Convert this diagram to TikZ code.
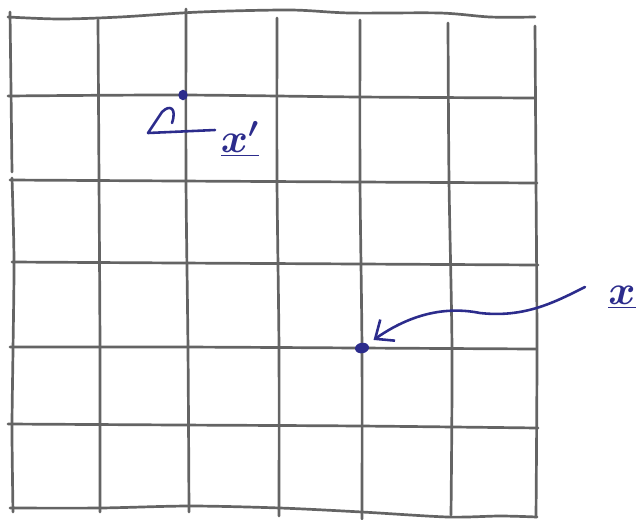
\documentclass[tikz,border=0pt]{standalone}
\usepackage{tikz}
\usetikzlibrary{arrows.meta,shapes.geometric}
\definecolor{pen}{RGB}{44,44,140}
\definecolor{pencil}{RGB}{100,100,100}

\begin{document}
\begin{tikzpicture}[x=0.03cm, y=-0.03cm, line join=round, line cap=round,
	grid/.style={pencil, line width=2.3pt},
	ink/.style={pen, line width=2.2pt},
	dot/.style={ellipse, fill=pen, inner sep=0pt},
	lab/.style={text=pen, inner sep=1pt, font=\huge\boldmath, scale=1.7}]
	\useasboundingbox (0,0) rectangle (644,519);
	% horizontal lines
	\draw[grid] plot[smooth] coordinates {(8,17) (60,19) (120,17) (200,12) (290,10) (350,13) (440,13) (490,17) (535,17)};
	\draw[grid] plot[smooth] coordinates {(8,96) (180,95) (360,97) (535,98)};
	\draw[grid] plot[smooth] coordinates {(10,180) (180,181) (360,182) (537,183)};
	\draw[grid] plot[smooth] coordinates {(12,262) (180,263) (360,264) (538,265)};
	\draw[grid] plot[smooth] coordinates {(10,347) (180,347) (360,348) (536,349)};
	\draw[grid] plot[smooth] coordinates {(8,424) (180,425) (360,426) (538,428)};
	\draw[grid] plot[smooth] coordinates {(10,508) (100,508) (190,506) (280,508) (362,512) (448,517) (500,516) (537,517)};
	% vertical lines
	\draw[grid] plot[smooth] coordinates {(10,12) (11,90) (12,172)};
	\draw[grid] plot[smooth] coordinates {(12,178) (14,260) (13,350) (12,430) (13,512)};
	\draw[grid] plot[smooth] coordinates {(98,20) (99,180) (100,350) (100,512)};
	\draw[grid] plot[smooth] coordinates {(186,9) (186,180) (188,350) (189,512)};
	\draw[grid] plot[smooth] coordinates {(277,18) (277,180) (279,350) (279,516)};
	\draw[grid] plot[smooth] coordinates {(360,20) (360,180) (362,350) (362,519)};
	\draw[grid] plot[smooth] coordinates {(448,23) (449,180) (452,350) (451,515)};
	\draw[grid] plot[smooth] coordinates {(535,26) (536,180) (537,350) (536,517)};
	% points
	\node[dot, minimum width=8pt, minimum height=9pt] (xpdot) at (183,95) {};
	\node[dot, minimum width=12pt, minimum height=9pt, rotate=10] (xdot) at (362,348) {};
	\node[lab] (xplab) at (240,139) {$\underline{x'}$};
	\node[lab] (xlab) at (622,297) {$\underline{x}$};
	% arrows
	\coordinate (xptail) at (215,130);
	\coordinate (xpbend) at (148,133);
	\draw[ink] (xptail) -- (xpbend) -- (162,112) .. controls (170,104) and (177,108) .. (172,123);
	\coordinate (xtail) at (585,287);
	\draw[ink, -{Straight Barb[length=13pt, width=22pt]}, shorten >=12pt]
		(xtail) .. controls (555,302) and (525,318) .. (480,313)
		.. controls (440,305) and (405,318) .. (xdot.center);
\end{tikzpicture}
\end{document}
